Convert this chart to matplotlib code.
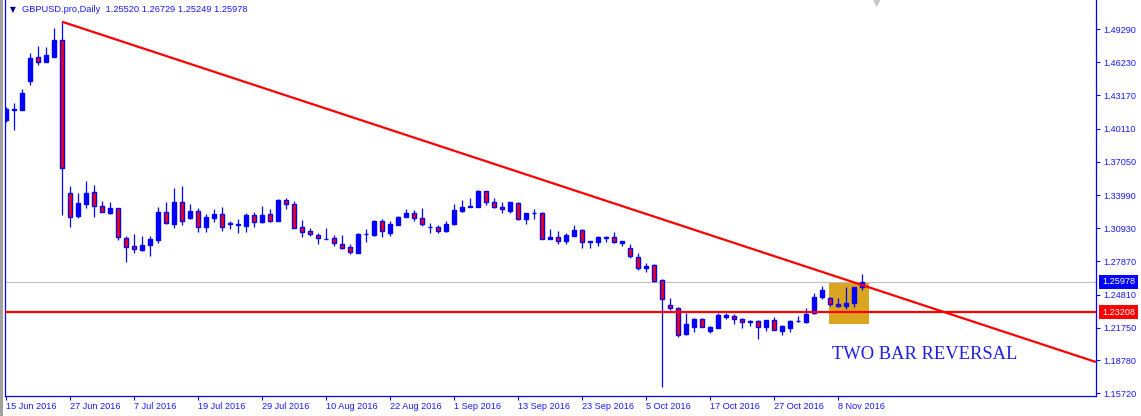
import numpy as np
import pandas as pd
import matplotlib
matplotlib.use("Agg")
import matplotlib.pyplot as plt
from matplotlib.patches import Rectangle

# GBPUSD daily, 15 Jun 2016 - 11 Nov 2016
opens = [1.4091, 1.4183, 1.4183, 1.4450, 1.4672, 1.4626, 1.4672, 1.4828, 1.3418, 1.3206,
         1.3317, 1.3427, 1.3298, 1.3234, 1.3280, 1.3003, 1.2930, 1.2893, 1.2939, 1.2985,
         1.3243, 1.3132, 1.3335, 1.3188, 1.3252, 1.3105, 1.3188, 1.3225, 1.3132, 1.3123,
         1.3114, 1.3215, 1.3151, 1.3225, 1.3160, 1.3354, 1.3317, 1.3105, 1.3068, 1.3031,
         1.2994, 1.3003, 1.2948, 1.2920, 1.2865, 1.3038, 1.3031, 1.3160, 1.3049, 1.3123,
         1.3197, 1.3234, 1.3188, 1.3103, 1.3105, 1.3068, 1.3132, 1.3252, 1.3289, 1.3289,
         1.3437, 1.3335, 1.3289, 1.3252, 1.3326, 1.3178, 1.3232, 1.3234, 1.2994, 1.3013,
         1.2976, 1.3022, 1.3077, 1.2967, 1.2967, 1.3003, 1.3013, 1.2957, 1.2911, 1.2828,
         1.2727, 1.2754, 1.2616, 1.2386, 1.2358, 1.2119, 1.2183, 1.2257, 1.2146, 1.2174,
         1.2275, 1.2284, 1.2257, 1.2229, 1.2238, 1.2183, 1.2248, 1.2146, 1.2174, 1.2234,
         1.2229, 1.2312, 1.2460, 1.2450, 1.2395, 1.2377, 1.2404, 1.25520]
highs = [1.4211, 1.4248, 1.4377, 1.4709, 1.4773, 1.4764, 1.4939, 1.4994, 1.3483, 1.3418,
         1.3529, 1.3492, 1.3344, 1.3335, 1.3280, 1.3022, 1.3040, 1.3022, 1.3022, 1.3289,
         1.3335, 1.3464, 1.3483, 1.3317, 1.3280, 1.3225, 1.3271, 1.3289, 1.3160, 1.3178,
         1.3234, 1.3243, 1.3298, 1.3271, 1.3363, 1.3372, 1.3344, 1.3169, 1.3096, 1.3049,
         1.3096, 1.3031, 1.3031, 1.2948, 1.3049, 1.3086, 1.3169, 1.3178, 1.3160, 1.3206,
         1.3271, 1.3261, 1.3280, 1.3142, 1.3123, 1.3160, 1.3317, 1.3354, 1.3372, 1.3446,
         1.3440, 1.3372, 1.3335, 1.3338, 1.3335, 1.3236, 1.3271, 1.3243, 1.3086, 1.3068,
         1.3049, 1.3123, 1.3086, 1.2978, 1.3022, 1.3022, 1.3059, 1.2978, 1.2948, 1.2865,
         1.2773, 1.2764, 1.2626, 1.2450, 1.2367, 1.2312, 1.2266, 1.2266, 1.2192, 1.2312,
         1.2312, 1.2303, 1.2266, 1.2248, 1.2248, 1.2250, 1.2275, 1.2202, 1.2248, 1.2284,
         1.2358, 1.2496, 1.2561, 1.2460, 1.2450, 1.2552, 1.2555, 1.26729]
lows = [1.4073, 1.3999, 1.4183, 1.4414, 1.4598, 1.4626, 1.4672, 1.3215, 1.3105, 1.3188,
        1.3280, 1.3197, 1.3243, 1.3225, 1.2985, 1.2782, 1.2865, 1.2884, 1.2837, 1.2957,
        1.3132, 1.3096, 1.3123, 1.3178, 1.3059, 1.3059, 1.3151, 1.3068, 1.3086, 1.3049,
        1.3059, 1.3105, 1.3142, 1.3151, 1.3160, 1.3271, 1.3096, 1.3013, 1.3022, 1.2948,
        1.2990, 1.2930, 1.2902, 1.2856, 1.2865, 1.2967, 1.3022, 1.3013, 1.3022, 1.3123,
        1.3197, 1.3160, 1.3114, 1.3049, 1.3049, 1.3059, 1.3123, 1.3243, 1.3289, 1.3289,
        1.3308, 1.3280, 1.3234, 1.3234, 1.3169, 1.3132, 1.3178, 1.2990, 1.2990, 1.2948,
        1.2948, 1.3022, 1.2911, 1.2911, 1.2930, 1.2967, 1.2957, 1.2930, 1.2819, 1.2708,
        1.2690, 1.2598, 1.1630, 1.2340, 1.2091, 1.2109, 1.2137, 1.2180, 1.2128, 1.2170,
        1.2257, 1.2211, 1.2174, 1.2192, 1.2072, 1.2146, 1.2152, 1.2109, 1.2137, 1.2229,
        1.2220, 1.2303, 1.2441, 1.2377, 1.2367, 1.2349, 1.2367, 1.25249]
closes = [1.4192, 1.4192, 1.4340, 1.4662, 1.4626, 1.4690, 1.4828, 1.3649, 1.3197, 1.3326,
          1.3418, 1.3298, 1.3243, 1.3280, 1.3013, 1.2920, 1.2902, 1.2939, 1.2994, 1.3243,
          1.3142, 1.3335, 1.3160, 1.3252, 1.3105, 1.3197, 1.3225, 1.3105, 1.3142, 1.3132,
          1.3215, 1.3151, 1.3215, 1.3160, 1.3354, 1.3317, 1.3096, 1.3059, 1.3040, 1.3003,
          1.2997, 1.2957, 1.2911, 1.2874, 1.3040, 1.3042, 1.3160, 1.3068, 1.3132, 1.3197,
          1.3234, 1.3188, 1.3132, 1.3107, 1.3068, 1.3132, 1.3261, 1.3289, 1.3298, 1.3437,
          1.3335, 1.3289, 1.3271, 1.3335, 1.3178, 1.3234, 1.3236, 1.2994, 1.3013, 1.2976,
          1.3031, 1.3077, 1.2967, 1.2976, 1.3013, 1.3013, 1.2967, 1.2976, 1.2837, 1.2727,
          1.2745, 1.2607, 1.2441, 1.2358, 1.2109, 1.2211, 1.2257, 1.2183, 1.2183, 1.2294,
          1.2294, 1.2257, 1.2229, 1.2238, 1.2183, 1.2248, 1.2155, 1.2192, 1.2238, 1.2240,
          1.2303, 1.2460, 1.2524, 1.2395, 1.2377, 1.2404, 1.2552, 1.25978]

dates = pd.bdate_range("2016-06-15", periods=len(opens))

# right scale labels
price_ticks = [1.49290, 1.46230, 1.43170, 1.40110, 1.37050, 1.33990, 1.30930,
               1.27870, 1.24810, 1.21750, 1.18780, 1.15720]
bid_price = 1.25978
support_level = 1.23208
# trend line anchors (bar index, price)
trend_pts = [(7, 1.4997), (136.25, 1.1860)]
# highlighted zone (bar index range, price range)
zone_bars = (102.9, 107.9)
zone_prices = (1.2211, 1.25978)

BLUE = "#0000ff"
TXT = "#1a1aff"
RED = "#ff0000"

plt.rcParams['font.family'] = ['Liberation Sans', 'DejaVu Sans']

fig = plt.figure(figsize=(11.41, 4.16), dpi=100)
ax = fig.add_axes([5 / 1141, 20 / 416, 1091 / 1141, 396 / 416])

o = np.array(opens)
h = np.array(highs)
l = np.array(lows)
c = np.array(closes)
x = np.arange(len(o))
up = c >= o

# zone behind everything
ax.add_patch(Rectangle((zone_bars[0], zone_prices[0]), zone_bars[1] - zone_bars[0],
                       zone_prices[1] - zone_prices[0], facecolor="#daa520",
                       edgecolor="none", zorder=1))

# bid line
ax.axhline(bid_price, color="#c0c0c0", lw=0.8, zorder=2)

# wicks and bodies
ax.vlines(x, l, h, color=BLUE, lw=0.9, zorder=3)
body = np.maximum(np.abs(c - o), 0.00006)
ax.bar(x, body, bottom=np.minimum(o, c), width=0.52,
       color=np.where(up, BLUE, RED), edgecolor=BLUE, linewidth=1.0, zorder=4)

# support line and trend line
ax.axhline(support_level, color=RED, lw=1.6, zorder=5)
(x0, y0), (x1, y1) = trend_pts
ax.plot([x0, x1], [y0, y1], color=RED, lw=1.6, zorder=5, solid_capstyle="butt")

ax.text(103.25, 1.1925, "TWO BAR REVERSAL", family="Liberation Serif",
        fontsize=13.3, color="#1e1ee6", ha="left", va="center", zorder=6)

ax.set_xlim(-0.125, 136.25)
ax.set_ylim(1.1547, 1.5197)

# axes look
for side in ["left", "bottom", "right"]:
    ax.spines[side].set_color(BLUE)
    ax.spines[side].set_linewidth(0.9)
ax.spines["top"].set_visible(False)

ax.yaxis.tick_right()
ax.set_yticks(price_ticks)
ax.set_yticklabels([f"{p:.5f}" for p in price_ticks])
ax.tick_params(axis="y", direction="out", length=3, width=0.8, color=BLUE,
               labelcolor=TXT, labelsize=6.6, pad=2)

xt = list(range(0, len(o), 8))
ax.set_xticks(xt)
ax.set_xticklabels([f"{dates[i].day} {dates[i].strftime('%b %Y')}" for i in xt])
for lab in ax.get_xticklabels():
    lab.set_horizontalalignment("left")
ax.tick_params(axis="x", direction="out", length=3, width=0.8, color=BLUE,
               labelcolor=TXT, labelsize=6.6, pad=1.5)

# price tags on the right scale
ax.text(1.0055, bid_price, f"{bid_price:.5f}", transform=ax.get_yaxis_transform(),
        fontsize=6.6, color="white", ha="left", va="center", zorder=10, clip_on=False,
        bbox=dict(boxstyle="square,pad=0.3", facecolor=BLUE, edgecolor="none"))
ax.text(1.0055, support_level, f"{support_level:.5f}", transform=ax.get_yaxis_transform(),
        fontsize=6.6, color="white", ha="left", va="center", zorder=10, clip_on=False,
        bbox=dict(boxstyle="square,pad=0.3", facecolor=RED, edgecolor="none"))

# header line
fig.text(10 / 1141, 1 - 10 / 416, "\u25bc", family="DejaVu Sans", fontsize=5.5,
         color="#000080", ha="left", va="center")
fig.text(22 / 1141, 1 - 10 / 416,
         "GBPUSD.pro,Daily  1.25520 1.26729 1.25249 1.25978",
         fontsize=6.7, color=TXT, ha="left", va="center")
# chart shift marker
fig.text(877 / 1141, 1 - 3 / 416, "\u25bc", family="DejaVu Sans", fontsize=7,
         color="#c8c8c8", ha="center", va="center")

# window frame on the left
fig.add_artist(Rectangle((0, 0), 3 / 1141, 1, transform=fig.transFigure,
                         facecolor="#a0a0a0", edgecolor="none"))

fig.savefig("out.png", dpi=100)
